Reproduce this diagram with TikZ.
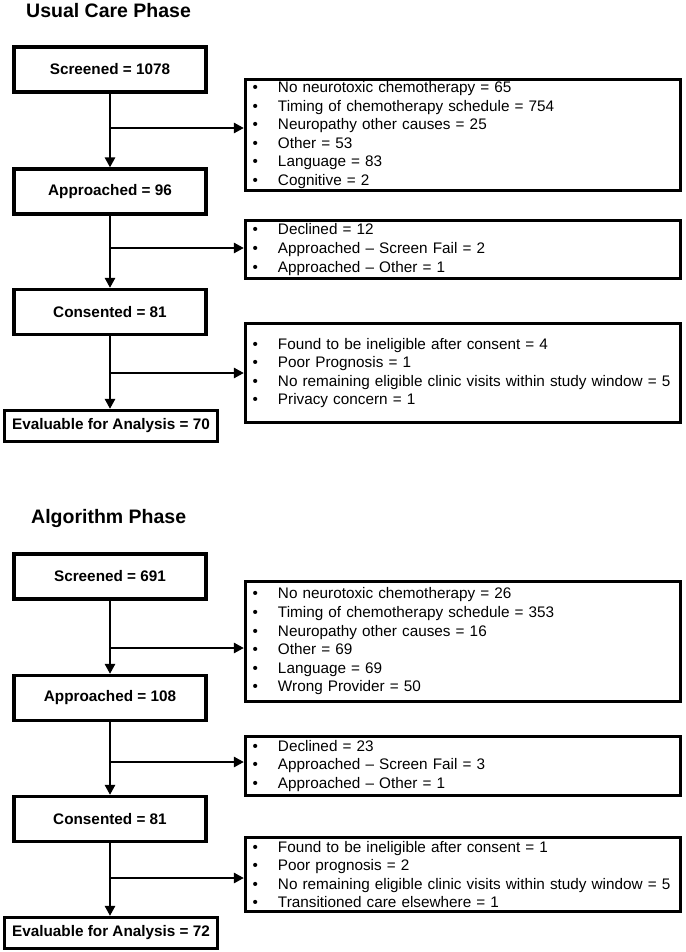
\documentclass[tikz,border=0pt]{standalone}
\usepackage{fontspec}
\setmainfont{Liberation Sans}
\usetikzlibrary{arrows.meta}
\newcommand{\itm}[1]{\makebox[25.5pt][l]{•}#1}
\begin{document}
\begin{tikzpicture}[x=1pt,y=-1pt,
  flowbox/.style={draw, line width=3.2pt, inner sep=0pt, minimum width=192pt, minimum height=45pt,
    font=\fontsize{15.3}{18.6}\selectfont\bfseries},
  evalbox/.style={flowbox, minimum width=213pt, minimum height=31pt},
  exclbox/.style={draw, line width=3.2pt, inner xsep=7pt, inner ysep=0pt, text width=421pt, align=left,
    minimum width=435pt, font=\fontsize{15.3}{18.6}\selectfont},
  phasetitle/.style={anchor=west, inner sep=0pt, font=\fontsize{19.5}{23}\selectfont\bfseries},
  arr/.style={line width=2.8pt, -{Triangle[length=10pt,width=10pt]}}
]
\useasboundingbox (0,0) rectangle (685,952);

% ---------- Usual Care Phase ----------
\node[phasetitle] (t1) at (26,11) {Usual Care Phase};
\node[flowbox] (s1) at (110,69.5) {Screened = 1078};
\node[flowbox] (a1) at (110,191.5) {Approached = 96};
\node[flowbox] (c1) at (110,312) {Consented = 81};
\node[evalbox] (v1) at (111,426) {Evaluable for Analysis = 70};

\node[exclbox, minimum height=111pt] (e1) at (463,135) {\itm{No neurotoxic chemotherapy = 65}\\
\itm{Timing of chemotherapy schedule = 754}\\
\itm{Neuropathy other causes = 25}\\
\itm{Other = 53}\\
\itm{Language = 83}\\
\itm{Cognitive = 2}};
\node[exclbox, minimum height=58pt] (e2) at (463,249.5) {\itm{Declined = 12}\\
\itm{Approached – Screen Fail = 2}\\
\itm{Approached – Other = 1}};
\node[exclbox, minimum height=99pt] (e3) at (463,373) {\itm{Found to be ineligible after consent = 4}\\
\itm{Poor Prognosis = 1}\\
\itm{No remaining eligible clinic visits within study window = 5}\\
\itm{Privacy concern = 1}};

\draw[arr] (s1.south) -- (a1.north);
\draw[arr] (a1.south) -- (c1.north);
\draw[arr] (c1.south) -- (v1.north -| c1.south);
\coordinate (j1) at (110,128);
\coordinate (j2) at (110,248);
\coordinate (j3) at (110,373);
\draw[arr] (j1) -- (j1 -| e1.west);
\draw[arr] (j2) -- (j2 -| e2.west);
\draw[arr] (j3) -- (j3 -| e3.west);

% ---------- Algorithm Phase ----------
\node[phasetitle] (t2) at (31,518) {Algorithm Phase};
\node[flowbox] (s2) at (110,576.5) {Screened = 691};
\node[flowbox] (a2) at (110,698) {Approached = 108};
\node[flowbox] (c2) at (110,819) {Consented = 81};
\node[evalbox] (v2) at (111,933) {Evaluable for Analysis = 72};

\node[exclbox, minimum height=120pt] (f1) at (463,641.5) {\itm{No neurotoxic chemotherapy = 26}\\
\itm{Timing of chemotherapy schedule = 353}\\
\itm{Neuropathy other causes = 16}\\
\itm{Other = 69}\\
\itm{Language = 69}\\
\itm{Wrong Provider = 50}};
\node[exclbox, minimum height=59pt] (f2) at (463,766) {\itm{Declined = 23}\\
\itm{Approached – Screen Fail = 3}\\
\itm{Approached – Other = 1}};
\node[exclbox, minimum height=74pt] (f3) at (463,874.5) {\itm{Found to be ineligible after consent = 1}\\
\itm{Poor prognosis = 2}\\
\itm{No remaining eligible clinic visits within study window = 5}\\
\itm{Transitioned care elsewhere = 1}};

\draw[arr] (s2.south) -- (a2.north);
\draw[arr] (a2.south) -- (c2.north);
\draw[arr] (c2.south) -- (v2.north -| c2.south);
\coordinate (k1) at (110,648);
\coordinate (k2) at (110,762);
\coordinate (k3) at (110,878);
\draw[arr] (k1) -- (k1 -| f1.west);
\draw[arr] (k2) -- (k2 -| f2.west);
\draw[arr] (k3) -- (k3 -| f3.west);
\end{tikzpicture}
\end{document}
